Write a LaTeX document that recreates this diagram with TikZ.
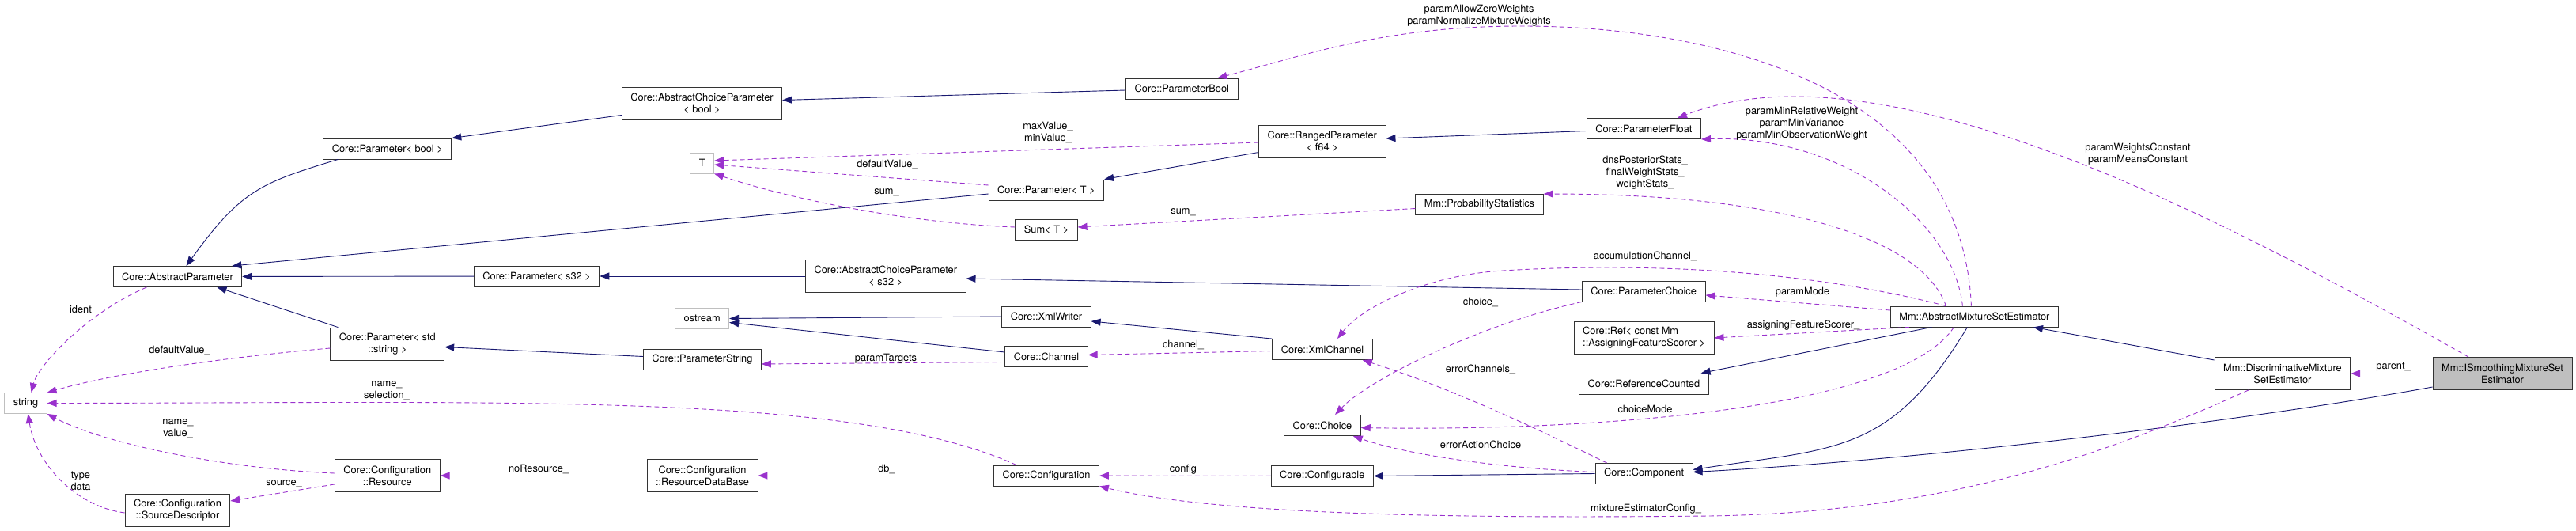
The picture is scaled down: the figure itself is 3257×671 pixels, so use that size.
\documentclass[tikz,border=0pt]{standalone}
\usepackage{fontspec}
\setmainfont{TeX Gyre Heros}
\usepackage{xcolor}
\usepackage{tikz}
\usetikzlibrary{arrows.meta}
\definecolor{edgeblue}{RGB}{25,25,112}
\definecolor{edgepurple}{RGB}{154,50,205}

\begin{document}
\begin{tikzpicture}[x=1pt,y=-1pt,
            font=\fontsize{12.8}{15}\selectfont,
            cls/.style={rectangle,draw=black!80,line width=0.9pt,fill=white,minimum height=26pt,inner xsep=11pt,inner ysep=3pt,align=center},
            tall/.style={cls,minimum height=41pt},
            ext/.style={cls,draw=black!25},
            focus/.style={tall,fill=black!25},
            inherit/.style={-{Triangle[length=12pt,width=9pt]},line width=0.9pt,color=edgeblue},
            usage/.style={-{Triangle[length=12pt,width=9pt]},line width=0.9pt,color=edgepurple,dash pattern=on 6pt off 4pt},
            lbl/.style={inner sep=0pt,align=center}]
            \useasboundingbox (0,0) rectangle (3257,671);
            % classes
            \node[ext] (str) at (32.5,509.5) {string};
            \node[cls] (absp) at (224.5,349.5) {Core::AbstractParameter};
            \node[tall] (srcdesc) at (224.5,645) {Core::Configuration\\::SourceDescriptor};
            \node[cls] (pbool) at (489.8,188) {Core::Parameter< bool >};
            \node[tall] (pstr) at (489.8,434.5) {Core::Parameter< std\\::string >};
            \node[tall] (resource) at (489.8,601) {Core::Configuration\\::Resource};
            \node[cls] (ps32) at (678.6,349) {Core::Parameter< s32 >};
            \node[tall] (acpb) at (887.5,130.5) {Core::AbstractChoiceParameter\\< bool >};
            \node[ext] (T) at (887.7,206) {T};
            \node[ext] (ostream) at (887.7,402.5) {ostream};
            \node[cls] (pstring) at (887.9,454.5) {Core::ParameterString};
            \node[tall] (rdb) at (888,601) {Core::Configuration\\::ResourceDataBase};
            \node[tall] (acps32) at (1119.8,349) {Core::AbstractChoiceParameter\\< s32 >};
            \node[cls] (ptT) at (1322.9,240) {Core::Parameter< T >};
            \node[cls] (sumT) at (1323,290) {Sum< T >};
            \node[cls] (xmlw) at (1323,400) {Core::XmlWriter};
            \node[cls] (channel) at (1323,450.5) {Core::Channel};
            \node[cls] (config) at (1323,601) {Core::Configuration};
            \node[cls] (pboolc) at (1494.3,112) {Core::ParameterBool};
            \node[tall] (ranged) at (1671.8,178.5) {Core::RangedParameter\\< f64 >};
            \node[cls] (xmlch) at (1672,441.5) {Core::XmlChannel};
            \node[cls] (choice) at (1672,537.5) {Core::Choice};
            \node[cls] (configurable) at (1671.8,601.5) {Core::Configurable};
            \node[cls] (probst) at (1870.5,258.5) {Mm::ProbabilityStatistics};
            \node[cls] (pfloat) at (2078.4,162.5) {Core::ParameterFloat};
            \node[cls] (pchoice) at (2078.2,368) {Core::ParameterChoice};
            \node[tall,align=left] (ref) at (2078.6,427) {Core::Ref< const Mm\\::AssigningFeatureScorer >};
            \node[cls] (refc) at (2078.4,485) {Core::ReferenceCounted};
            \node[cls] (comp) at (2078.6,598.5) {Core::Component};
            \node[cls] (amse) at (2496.4,400) {Mm::AbstractMixtureSetEstimator};
            \node[tall] (disc) at (2885.9,472) {Mm::DiscriminativeMixture\\SetEstimator};
            \node[focus] (ismooth) at (3164,472) {Mm::ISmoothingMixtureSet\\Estimator};
            % inheritance
            \draw[inherit] ([xshift=19pt]pbool.south west) .. controls (330,231) and (305,240) .. ([xshift=11pt]absp.north);
            \draw[inherit] ([yshift=-15pt]acpb.west)--(pbool.north east);
            \draw[inherit] ([yshift=-2pt]pboolc.west)--([yshift=4pt]acpb.east);
            \draw[inherit] ([yshift=-5pt]ptT.west)--([xshift=-13pt]absp.north east);
            \draw[inherit] ([yshift=-14pt]ranged.west)--(ptT.north east);
            \draw[inherit] ([yshift=-3pt]pfloat.west)--([yshift=3.5pt]ranged.east);
            \draw[inherit] (ps32)--(absp);
            \draw[inherit] (acps32)--(ps32);
            \draw[inherit] ([yshift=2pt]pchoice.west)--([yshift=-3pt]acps32.east);
            \draw[inherit] ([xshift=10pt]pstr.north west)--([xshift=50pt]absp.south);
            \draw[inherit] ([yshift=4pt]pstring.west)--([yshift=-4pt]pstr.east);
            \draw[inherit] (xmlw.west)--(ostream.east);
            \draw[inherit] ([yshift=5.5pt]channel.west)--([yshift=-5pt]ostream.east);
            \draw[inherit] (xmlch.north west)--([yshift=-6pt]xmlw.east);
            \draw[inherit] (comp.west)--(configurable.east);
            \draw[inherit] ([xshift=-54pt]amse.south)--([xshift=-10pt]refc.north east);
            \draw[inherit] ([xshift=-9pt]amse.south) .. controls (2390,575) and (2320,566) .. ([yshift=5pt]comp.east);
            \draw[inherit] ([yshift=17pt]disc.west)--([xshift=-32pt]amse.south east);
            \draw[inherit] ([yshift=-17pt]ismooth.west) .. controls (2850,530) and (2450,580) .. ([yshift=2pt]comp.east);
            % members
            \draw[usage] ([xshift=-39pt]absp.south) .. controls (110,395) and (48,462) .. ([xshift=7pt]str.north);
            \draw[usage] ([yshift=-5.5pt]pstr.west) .. controls (300,450) and (150,470) .. (str.north east);
            \draw[usage] ([xshift=-38pt]config.north) .. controls (1080,495) and (650,509) .. (str.east);
            \draw[usage] ([yshift=3pt]resource.west) .. controls (280,592) and (130,560) .. (str.south east);
            \draw[usage] ([yshift=-3pt]srcdesc.west) .. controls (95,640) and (45,585) .. ([xshift=3pt]str.south);
            \draw[usage] ([yshift=-11pt]resource.west)--([yshift=12pt]srcdesc.east);
            \draw[usage] (rdb)--(resource);
            \draw[usage] (config)--(rdb);
            \draw[usage] (configurable)--(config);
            \draw[usage] ([xshift=-43pt]disc.south) .. controls (2650,580) and (2450,648) .. (2160,652) .. controls (1800,656) and (1530,648) .. (config.south east);
            \draw[usage] ([yshift=6pt]ptT.west)--([yshift=-2pt]T.east);
            \draw[usage] ([yshift=-1.5pt]ranged.west)--([yshift=3pt]T.east);
            \draw[usage] ([yshift=3pt]sumT.west) .. controls (1150,282) and (1000,252) .. (T.south east);
            \draw[usage] ([yshift=-5pt]probst.west)--([yshift=3pt]sumT.east);
            \draw[usage] ([yshift=-7pt]channel.west)--([yshift=-5.5pt]pstring.east);
            \draw[usage] ([yshift=-2pt]xmlch.west)--([yshift=2pt]channel.east);
            \draw[usage] (pchoice.south west) .. controls (1870,410) and (1730,480) .. ([xshift=16pt]choice.north);
            \draw[usage] ([xshift=15pt]comp.north west) .. controls (1980,560) and (1850,495) .. ([xshift=-13pt]xmlch.south east);
            \draw[usage] ([yshift=2pt]comp.west) .. controls (1900,592) and (1780,575) .. ([xshift=-10pt]choice.south east);
            \draw[usage] ([xshift=-4pt]amse.north) .. controls (2480,100) and (2150,33) .. (1924,33) .. controls (1750,33) and (1650,70) .. ([xshift=-26pt]pboolc.north east);
            \draw[usage] ([xshift=-15pt]amse.north) .. controls (2470,280) and (2330,170) .. (pfloat.south east);
            \draw[usage] ([xshift=-43pt]ismooth.north) .. controls (2800,270) and (2380,50) .. ([xshift=-30pt]pfloat.north east);
            \draw[usage] ([xshift=-36pt]amse.north) .. controls (2430,300) and (2250,245) .. (probst.north east);
            \draw[usage] ([xshift=-36pt]amse.north) .. controls (2300,345) and (2100,330) .. (1900,342) .. controls (1800,348) and (1720,390) .. ([xshift=19pt]xmlch.north);
            \draw[usage] ([yshift=8pt]amse.west)--([yshift=-5pt]pchoice.east);
            \draw[usage] ([xshift=24pt]amse.south west)--(ref.east);
            \draw[usage] ([xshift=-26pt]amse.south) .. controls (2400,520) and (2000,545) .. ([yshift=-3pt]choice.east);
            \draw[usage] (ismooth)--(disc);
            % member names
            \node[lbl] (lAllow) at (1870,20) {paramAllowZeroWeights\\paramNormalizeMixtureWeights};
            \node[lbl] (lMax) at (1325,167) {maxValue\_\\minValue\_};
            \node[lbl] (lDefT) at (1122,208) {defaultValue\_};
            \node[lbl] (lSumT) at (1121,243) {sum\_};
            \node[lbl] (lSum) at (1496,268) {sum\_};
            \node[lbl] (lStats) at (2080,218) {dnsPosteriorStats\_\\finalWeightStats\_\\weightStats\_};
            \node[lbl] (lAcc) at (2080,324) {accumulationChannel\_};
            \node[lbl] (lMin) at (2278,156) {paramMinRelativeWeight\\paramMinVariance\\paramMinObservationWeight};
            \node[lbl] (lConst) at (2703,195) {paramWeightsConstant\\paramMeansConstant};
            \node[lbl] (lIdent) at (102,391) {ident};
            \node[lbl] (lDefS) at (227,443) {defaultValue\_};
            \node[lbl] (lNameSel) at (489,494) {name\_\\selection\_};
            \node[lbl] (lNameVal) at (225,542) {name\_\\value\_};
            \node[lbl] (lType) at (102,608) {type\\data};
            \node[lbl] (lSource) at (359,611) {source\_};
            \node[lbl] (lNoRes) at (681,593) {noResource\_};
            \node[lbl] (lTargets) at (1120,453) {paramTargets};
            \node[lbl] (lChannel) at (1496,436) {channel\_};
            \node[lbl] (lDb) at (1121,593) {db\_};
            \node[lbl] (lConfig) at (1496,593) {config};
            \node[lbl] (lChoice) at (1872,382) {choice\_};
            \node[lbl] (lErrCh) at (1872,467) {errorChannels\_};
            \node[lbl] (lErrAct) at (1872,562) {errorActionChoice};
            \node[lbl] (lChMode) at (2080,517) {choiceMode};
            \node[lbl] (lMixCfg) at (2081,643) {mixtureEstimatorConfig\_};
            \node[lbl] (lMode) at (2279,369) {paramMode};
            \node[lbl] (lScorer) at (2280,411) {assigningFeatureScorer\_};
            \node[lbl] (lParent) at (3026,464) {parent\_};
\end{tikzpicture}
\end{document}
